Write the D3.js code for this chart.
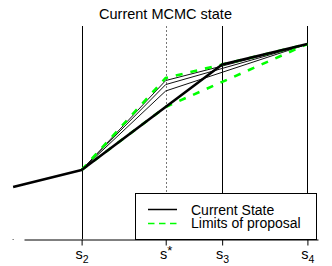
<!DOCTYPE html>
<html>
<head>
<meta charset="utf-8">
<script src="https://cdn.jsdelivr.net/npm/d3@7"></script>
<style>
  html, body { margin: 0; padding: 0; background: #fff; }
  svg { display: block; font-family: "Liberation Sans", Arial, Helvetica, sans-serif; }
</style>
</head>
<body>
<svg id="chart" width="332" height="266"></svg>
<script>
// ---- data ----
const title = "Current MCMC state";
// x positions of the states
const xS1 = -0.37, xS2 = 1.96, xStar = 4.82, xS3 = 6.74, xS4 = 9.64;
const tickValues = [xS2, xStar, xS3, xS4];
const tickBase = ["s", "s", "s", "s"];
const tickSub = ["2", "", "3", "4"];
const tickSup = ["", "*", "", ""];
// current state path (s1, s2, s3, s4)
const currentX = [xS1, xS2, xS3, xS4];
const currentY = [2.44, 3.24, 8.19, 9.15];
// limits of proposal
const upperX = [xS2, xStar, xS3, xS4];
const upperY = [3.24, 7.56, 8.19, 9.15];
const lowerX = [xS2, xStar, xS4];
const lowerY = [3.24, 6.20, 9.15];
// intermediate proposals at s*
const proposalStarY = [7.44, 7.25, 6.95];
const legendLabels = ["Current State", "Limits of proposal"];

// ---- layout ----
const svg = d3.select("#chart");
const x = d3.scaleLinear().domain([0, 10]).range([24, 318]);
const y = d3.scaleLinear().domain([0, 10]).range([239, 26]);
const line = d3.line().x(d => x(d[0])).y(d => y(d[1]));
const zip = (a, b) => a.map((v, i) => [v, b[i]]);

// title
svg.append("text").attr("x", 165.5).attr("y", 18.5).attr("text-anchor", "middle")
  .attr("font-size", 14.5).attr("fill", "#000").text(title);

// vertical reference lines
[xS2, xS3, xS4].forEach(v => {
  svg.append("line").attr("x1", Math.round(x(v)) + 0.5).attr("x2", Math.round(x(v)) + 0.5)
    .attr("y1", y(10)).attr("y2", y(0)).attr("stroke", "#000").attr("stroke-width", 1);
});
svg.append("line").attr("x1", Math.round(x(xStar)) + 0.5).attr("x2", Math.round(x(xStar)) + 0.5)
  .attr("y1", y(10)).attr("y2", y(0)).attr("stroke", "#777").attr("stroke-width", 1)
  .attr("stroke-dasharray", "2,2");

// proposals (thin)
proposalStarY.forEach(v => {
  svg.append("path").attr("d", line([[xS2, currentY[1]], [xStar, v], [xS4, currentY[3]]]))
    .attr("fill", "none").attr("stroke", "#111").attr("stroke-width", 1);
});
// limits (green dashed)
[zip(upperX, upperY), zip(lowerX, lowerY)].forEach(pts => {
  svg.append("path").attr("d", line(pts)).attr("fill", "none")
    .attr("stroke", "#00ff00").attr("stroke-width", 2.6).attr("stroke-dasharray", "7,8");
});
// current state (thick)
svg.append("path").attr("d", line(zip(currentX, currentY))).attr("fill", "none")
  .attr("stroke", "#000").attr("stroke-width", 2.6).attr("stroke-linejoin", "round");

// axis
const axis = d3.axisBottom(x).tickValues(tickValues).tickSize(6).tickSizeOuter(0).tickFormat("");
const gAxis = svg.append("g").attr("transform", "translate(0,239.5)").call(axis);
gAxis.select(".domain").attr("stroke", "#000");
gAxis.selectAll(".tick line").attr("stroke", "#000");
gAxis.selectAll(".tick").each(function(d, i) {
  const t = d3.select(this).append("text").attr("y", 19).attr("fill", "#000")
    .attr("font-size", 14.5).attr("text-anchor", "middle").attr("dy", 0);
  t.append("tspan").text(tickBase[i]);
  if (tickSub[i]) t.append("tspan").attr("font-size", 10.5).attr("dy", 4).text(tickSub[i]);
  if (tickSup[i]) t.append("tspan").attr("font-size", 13).attr("dy", -4).text(tickSup[i]);
});
// small mark at s1 on axis
svg.append("rect").attr("x", x(xS1) - 0.5).attr("y", 239).attr("width", 1).attr("height", 1).attr("fill", "#444");

// legend
const lg = svg.append("g");
lg.append("rect").attr("x", 135.5).attr("y", 193.5).attr("width", 181).attr("height", 46)
  .attr("fill", "#fff").attr("stroke", "#000").attr("stroke-width", 1);
lg.append("line").attr("x1", 148).attr("x2", 177).attr("y1", 209.5).attr("y2", 209.5)
  .attr("stroke", "#000").attr("stroke-width", 1.5);
lg.append("line").attr("x1", 148).attr("x2", 177).attr("y1", 223.5).attr("y2", 223.5)
  .attr("stroke", "#00ff00").attr("stroke-width", 1.5).attr("stroke-dasharray", "6.5,4.5");
legendLabels.forEach((s, i) => {
  lg.append("text").attr("x", 191).attr("y", 214.5 + i * 13.7).attr("font-size", 14)
    .attr("fill", "#000").text(s);
});
</script>
</body>
</html>
